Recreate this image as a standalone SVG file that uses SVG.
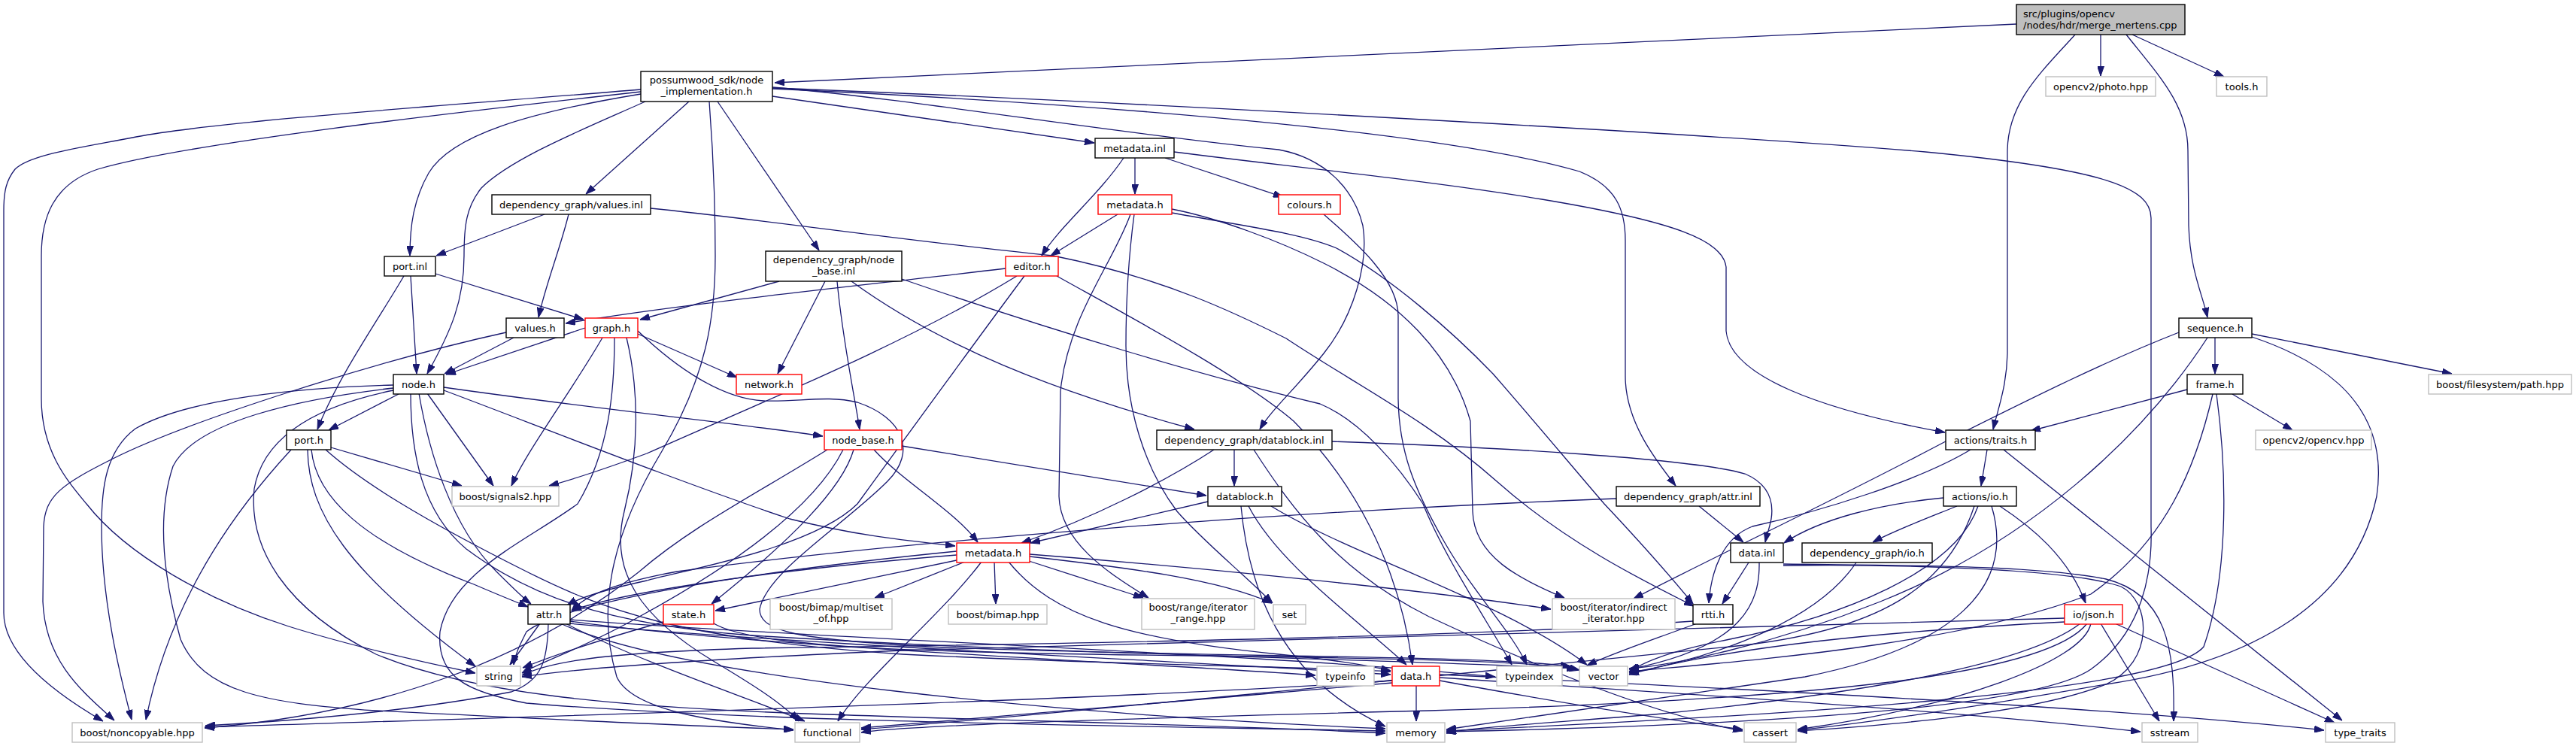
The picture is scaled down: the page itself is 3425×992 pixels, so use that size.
<svg xmlns="http://www.w3.org/2000/svg" width="3425" height="992" viewBox="0 0 3425 992">
<defs>
<marker id="ah" markerUnits="userSpaceOnUse" viewBox="0 0 13 9" refX="13" refY="4.5" markerWidth="13" markerHeight="9" orient="auto"><path d="M0,0 L13,4.5 L0,9 z" fill="#191970" stroke="#191970" stroke-width="1"/></marker>
</defs>
<style>
.nd rect{stroke-width:1.4}
.b{fill:#fff;stroke:#000}
.g{fill:#fff;stroke:#bfbfbf}
.r{fill:#fff;stroke:#ff0000}
.m{fill:#bfbfbf;stroke:#000}
text{font-family:"DejaVu Sans","Liberation Sans",sans-serif;font-size:13px;fill:#000;text-anchor:middle}
text.l{text-anchor:start}
#edges path{fill:none;stroke:#191970;stroke-width:1.3;marker-end:url(#ah)}
</style>
<rect width="3425" height="992" fill="#fff"/>
<g id="edges">
<path d="M2681,32 L1030,110"/>
<path d="M2793,46 L2793,101"/>
<path d="M2835,46 L2957,102"/>
<path d="M2759,46 C2715,95 2670,135 2669,200 L2669,470 C2668,515 2656,545 2650,571"/>
<path d="M2827,46 C2870,100 2909,140 2909,200 L2910,300 C2912,360 2928,390 2935,422"/>
<path d="M852,119 C600,140 300,160 181,182 C110,196 40,205 20,225 C8,240 5,255 5,280 L5,815 C5,870 70,920 137,959"/>
<path d="M852,122 C600,150 250,190 130,225 C70,245 55,290 55,340 L55,530 C55,600 90,640 115,670 C170,740 280,800 384,833 C470,860 560,880 632,895"/>
<path d="M852,125 C700,150 600,180 570,230 C550,265 545,300 545,340"/>
<path d="M858,135 C780,170 680,210 640,250 C620,275 617,300 617,340 C617,400 600,440 568,497"/>
<path d="M916,135 L779,258"/>
<path d="M943,135 C948,200 951,260 951,340 C951,420 940,500 880,600 C820,700 790,800 820,900 C840,945 950,960 1055,971"/>
<path d="M954,135 L1089,333"/>
<path d="M1027,128 L1455,190"/>
<path d="M1027,117 C1500,135 2300,180 2560,202 C2800,225 2860,250 2860,290 L2860,700 C2862,760 2850,840 2780,890 C2700,945 2300,965 1923,973"/>
<path d="M1027,118 C1400,135 1900,170 2100,228 C2150,248 2161,280 2161,320 L2161,500 C2161,560 2200,610 2228,646"/>
<path d="M1027,116 C1200,130 1500,180 1700,199 C1760,210 1800,250 1812,300 C1820,350 1800,420 1760,470 C1720,520 1690,545 1675,571"/>
<path d="M1509,210 L1509,258"/>
<path d="M1549,210 L1706,262"/>
<path d="M1494,210 C1460,260 1410,300 1385,340"/>
<path d="M1561,202 C1700,220 1900,240 2050,265 C2230,295 2290,320 2295,355 L2295,440 C2300,500 2420,545 2586,575"/>
<path d="M1486,285 L1397,340"/>
<path d="M1503,285 C1480,350 1420,420 1410,520 L1408,660 C1410,720 1470,760 1527,795"/>
<path d="M1508,285 C1502,330 1497,380 1497,460 C1497,540 1520,620 1565,680 C1600,720 1650,760 1692,802"/>
<path d="M1558,278 C1620,290 1700,320 1760,350 C1860,400 1930,470 1955,560 L1958,680 C1960,740 2020,770 2080,795"/>
<path d="M1558,283 C1650,300 1730,310 1777,330 C1850,370 1930,440 1985,497 C2040,560 2090,620 2133,670 C2180,720 2220,765 2251,803"/>
<path d="M1760,285 C1800,320 1859,370 1859,420 L1859,530 C1860,600 1880,650 1920,720 C1960,790 2010,840 2030,884"/>
<path d="M724,285 L580,340"/>
<path d="M756,285 C745,330 725,380 716,422"/>
<path d="M865,277 C1000,290 1200,320 1400,340 C1550,370 1650,420 1710,450 C1800,510 1900,560 1990,640 C2080,720 2180,770 2252,806"/>
<path d="M1337,357 C1100,385 900,405 752,430"/>
<path d="M1352,367 C1200,460 1000,540 860,603 C800,625 760,638 730,646"/>
<path d="M1362,367 C1300,450 1220,560 1140,670 C1080,730 900,760 860,772 C800,785 770,795 754,805"/>
<path d="M1405,367 C1500,420 1650,500 1720,560 C1800,640 1860,750 1878,884"/>
<path d="M1036,374 L851,425"/>
<path d="M1097,374 L1034,497"/>
<path d="M1113,374 C1120,450 1135,520 1143,571"/>
<path d="M1132,374 C1250,460 1400,520 1588,571"/>
<path d="M1199,371 C1400,440 1600,500 1755,537 C1810,560 1860,620 1892,670 C1920,740 1980,830 2010,884"/>
<path d="M778,436 L593,498"/>
<path d="M848,444 L980,502"/>
<path d="M801,449 C760,520 700,600 680,646"/>
<path d="M817,449 C817,520 810,600 768,670 C700,720 600,760 585,840 C580,900 620,920 700,935 C1000,960 1500,965 1842,972"/>
<path d="M833,449 C850,520 850,600 830,680 C810,760 850,820 950,880 C1000,910 1040,935 1062,959"/>
<path d="M848,440 C900,490 960,530 1015,533 C1060,535 1100,525 1140,535 C1200,555 1220,600 1180,640 C1120,700 1020,760 1010,810 C1010,840 1060,850 1234,860 C1600,875 1950,870 2088,886"/>
<path d="M683,449 L591,497"/>
<path d="M673,442 C500,480 250,560 150,610 C80,645 60,660 58,700 L57,800 C60,880 110,920 152,958"/>
<path d="M530,524 L437,572"/>
<path d="M590,515 C800,545 1000,565 1094,580"/>
<path d="M568,523 L656,646"/>
<path d="M523,512 C400,515 250,530 180,570 C140,600 135,650 135,700 C135,800 160,900 175,957"/>
<path d="M523,516 C400,530 260,560 230,620 C210,680 215,760 240,850 C270,920 350,935 500,945 C700,955 900,965 1055,970"/>
<path d="M523,519 C420,540 350,580 338,650 C330,730 380,810 500,870 C620,920 800,940 1100,950 C1400,960 1650,965 1842,975"/>
<path d="M557,523 C570,600 600,700 660,760 C680,780 695,795 706,803"/>
<path d="M546,523 C546,600 560,680 620,730 C700,790 800,830 1000,845 C1400,870 1800,875 2096,889"/>
<path d="M590,519 C700,560 900,640 1050,690 C1150,715 1220,720 1270,726"/>
<path d="M579,364 L776,425"/>
<path d="M546,367 L554,497"/>
<path d="M537,367 C500,430 450,500 422,571"/>
<path d="M440,595 L614,646"/>
<path d="M387,598 C330,660 230,780 194,957"/>
<path d="M409,598 C410,680 460,760 632,886"/>
<path d="M414,598 C420,660 480,720 630,777 C660,790 685,800 702,807"/>
<path d="M433,598 C480,640 560,690 700,760 C800,810 900,850 1200,870 C1500,885 1700,885 1849,893"/>
<path d="M1199,593 L1604,659"/>
<path d="M1162,598 C1200,640 1270,680 1300,721"/>
<path d="M1135,598 C1120,650 1050,720 946,803"/>
<path d="M1100,598 C1000,660 920,700 850,760 C700,880 500,950 272,968"/>
<path d="M1121,598 C1080,680 960,760 850,820 C780,860 720,880 694,895"/>
<path d="M1641,598 L1641,646"/>
<path d="M1614,598 C1550,640 1450,690 1358,722"/>
<path d="M1771,587 C2000,595 2250,610 2320,630 C2355,645 2358,670 2355,690 C2352,705 2349,712 2347,721"/>
<path d="M1667,598 C1720,680 1780,760 1900,820 C2050,890 2200,950 2317,972"/>
<path d="M1606,667 L1370,722"/>
<path d="M1660,673 C1700,750 1800,820 1870,884"/>
<path d="M1650,673 C1660,780 1700,900 1842,966"/>
<path d="M1690,673 C1800,740 2000,800 2110,884"/>
<path d="M2149,663 C1700,680 1200,720 900,760 C820,775 780,790 760,812"/>
<path d="M2259,673 L2318,721"/>
<path d="M2642,598 L2634,646"/>
<path d="M2664,598 L3114,958"/>
<path d="M2620,598 C2550,640 2420,680 2330,700 C2290,715 2275,760 2272,802"/>
<path d="M2584,662 C2500,670 2420,690 2372,722"/>
<path d="M2602,673 C2560,690 2520,705 2490,721"/>
<path d="M2659,673 C2700,700 2750,740 2773,802"/>
<path d="M2630,673 C2600,760 2450,820 2300,850 C2200,870 2180,885 2166,893"/>
<path d="M2625,673 C2590,780 2500,840 2300,860 C1900,900 1400,950 1145,970"/>
<path d="M2648,673 C2680,780 2600,860 2400,900 C2200,930 2000,960 1923,970"/>
<path d="M2325,748 L2290,803"/>
<path d="M2339,748 C2340,800 2320,860 2166,890"/>
<path d="M2371,750 C2500,752 2700,750 2800,770 C2880,790 2892,860 2890,959"/>
<path d="M2371,752 C2500,750 2750,755 2820,780 C2860,800 2865,880 2800,910 C2700,950 2500,965 2390,972"/>
<path d="M2468,748 C2420,820 2300,870 2166,895"/>
<path d="M2251,826 C2000,845 1500,855 1000,862 C800,868 730,880 694,898"/>
<path d="M2256,829 C2200,850 2140,870 2110,885"/>
<path d="M2745,822 C2400,832 1800,848 1200,865 C900,878 760,890 694,900"/>
<path d="M2745,827 C2500,840 2300,860 2166,897"/>
<path d="M2766,829 C2700,880 2500,920 2200,950 C2050,962 1950,968 1923,975"/>
<path d="M2775,829 C2720,900 2400,930 1900,945 C1500,955 1200,965 1145,974"/>
<path d="M2780,829 C2770,880 2600,940 2390,970"/>
<path d="M2793,829 L2871,959"/>
<path d="M2812,829 L3104,961"/>
<path d="M1883,911 L1883,959"/>
<path d="M1914,905 C2050,930 2200,955 2317,970"/>
<path d="M1914,901 C2200,920 2600,945 2846,973"/>
<path d="M1914,897 C2300,915 2800,940 3090,971"/>
<path d="M1851,905 C1500,930 800,950 272,967"/>
<path d="M1851,908 C1600,930 1300,955 1145,968"/>
<path d="M718,829 L678,884"/>
<path d="M729,829 C728,880 720,905 680,920 C550,945 400,958 273,965"/>
<path d="M758,826 C1000,860 1500,880 1749,898"/>
<path d="M758,824 C1100,850 1700,870 1988,900"/>
<path d="M756,829 C1100,860 1600,880 1849,897"/>
<path d="M752,829 C850,880 1000,930 1070,959"/>
<path d="M745,829 C900,900 1400,950 1842,969"/>
<path d="M882,827 C800,850 740,870 695,888"/>
<path d="M949,829 C1000,860 1200,868 1600,872 C1900,876 2050,880 2100,891"/>
<path d="M1272,733 C1000,760 750,800 700,840 C690,860 685,870 683,884"/>
<path d="M1272,738 C1000,760 820,790 760,812"/>
<path d="M1272,745 L951,812"/>
<path d="M1283,747 L1163,795"/>
<path d="M1305,747 C1250,820 1150,900 1114,959"/>
<path d="M1322,747 L1324,803"/>
<path d="M1368,746 L1520,795"/>
<path d="M1369,740 C1500,755 1620,770 1691,802"/>
<path d="M1369,737 C1600,755 1900,785 2062,810"/>
<path d="M1341,747 C1400,820 1500,850 1700,870 C1780,878 1820,885 1849,892"/>
<path d="M2945,449 L2945,497"/>
<path d="M2994,444 L3260,497"/>
<path d="M2897,442 C2800,480 2700,530 2600,580 C2450,660 2300,730 2172,796"/>
<path d="M2935,449 C2850,580 2700,720 2500,800 C2350,860 2220,885 2166,889"/>
<path d="M2994,448 C3120,490 3175,560 3160,660 C3130,800 3000,880 2800,910 C2600,945 2450,965 2390,971"/>
<path d="M2908,518 L2700,573"/>
<path d="M2968,524 L3048,572"/>
<path d="M2942,524 C2920,620 2880,720 2780,790 C2600,860 2300,880 2166,893"/>
<path d="M2947,524 C2960,620 2965,760 2930,860 C2880,920 2400,950 1923,972"/>
</g>
<g id="n_merge" class="nd"><rect class="m" x="2681" y="6" width="224" height="40"/><text class="l" x="2690" y="22.5">src/plugins/opencv</text><text class="l" x="2690" y="37.5">/nodes/hdr/merge_mertens.cpp</text></g>
<g id="n_possumwood" class="nd"><rect class="b" x="852" y="95" width="175" height="40"/><text x="939.5" y="111">possumwood_sdk/node</text><text x="939.5" y="126">_implementation.h</text></g>
<g id="n_photo" class="nd"><rect class="g" x="2720" y="102" width="146" height="26"/><text x="2793" y="119.5">opencv2/photo.hpp</text></g>
<g id="n_tools" class="nd"><rect class="g" x="2947" y="102" width="67" height="26"/><text x="2980.5" y="119.5">tools.h</text></g>
<g id="n_metadata_inl" class="nd"><rect class="b" x="1456" y="184" width="105" height="26"/><text x="1508.5" y="201.5">metadata.inl</text></g>
<g id="n_values_inl" class="nd"><rect class="b" x="654" y="259" width="211" height="26"/><text x="759.5" y="276.5">dependency_graph/values.inl</text></g>
<g id="n_metadata_h1" class="nd"><rect class="r" x="1460" y="259" width="98" height="26"/><text x="1509" y="276.5">metadata.h</text></g>
<g id="n_colours" class="nd"><rect class="r" x="1700" y="259" width="82" height="26"/><text x="1741" y="276.5">colours.h</text></g>
<g id="n_node_base_inl" class="nd"><rect class="b" x="1018" y="334" width="181" height="40"/><text x="1108.5" y="350">dependency_graph/node</text><text x="1108.5" y="365">_base.inl</text></g>
<g id="n_port_inl" class="nd"><rect class="b" x="511" y="341" width="68" height="26"/><text x="545" y="358.5">port.inl</text></g>
<g id="n_editor" class="nd"><rect class="r" x="1337" y="341" width="70" height="26"/><text x="1372" y="358.5">editor.h</text></g>
<g id="n_values_h" class="nd"><rect class="b" x="673" y="423" width="77" height="26"/><text x="711.5" y="440.5">values.h</text></g>
<g id="n_graph" class="nd"><rect class="r" x="778" y="423" width="70" height="26"/><text x="813" y="440.5">graph.h</text></g>
<g id="n_sequence" class="nd"><rect class="b" x="2897" y="423" width="97" height="26"/><text x="2945.5" y="440.5">sequence.h</text></g>
<g id="n_node_h" class="nd"><rect class="b" x="523" y="498" width="67" height="26"/><text x="556.5" y="515.5">node.h</text></g>
<g id="n_network" class="nd"><rect class="r" x="979" y="498" width="87" height="26"/><text x="1022.5" y="515.5">network.h</text></g>
<g id="n_frame" class="nd"><rect class="b" x="2908" y="498" width="74" height="26"/><text x="2945" y="515.5">frame.h</text></g>
<g id="n_fs_path" class="nd"><rect class="g" x="3229" y="498" width="190" height="26"/><text x="3324" y="515.5">boost/filesystem/path.hpp</text></g>
<g id="n_port_h" class="nd"><rect class="b" x="381" y="572" width="59" height="26"/><text x="410.5" y="589.5">port.h</text></g>
<g id="n_node_base_h" class="nd"><rect class="r" x="1096" y="572" width="103" height="26"/><text x="1147.5" y="589.5">node_base.h</text></g>
<g id="n_datablock_inl" class="nd"><rect class="b" x="1538" y="572" width="233" height="26"/><text x="1654.5" y="589.5">dependency_graph/datablock.inl</text></g>
<g id="n_traits" class="nd"><rect class="b" x="2587" y="572" width="119" height="26"/><text x="2646.5" y="589.5">actions/traits.h</text></g>
<g id="n_opencv" class="nd"><rect class="g" x="2999" y="572" width="154" height="26"/><text x="3076" y="589.5">opencv2/opencv.hpp</text></g>
<g id="n_signals2" class="nd"><rect class="g" x="601" y="647" width="142" height="26"/><text x="672" y="664.5">boost/signals2.hpp</text></g>
<g id="n_datablock_h" class="nd"><rect class="b" x="1606" y="647" width="98" height="26"/><text x="1655" y="664.5">datablock.h</text></g>
<g id="n_attr_inl" class="nd"><rect class="b" x="2149" y="647" width="191" height="26"/><text x="2244.5" y="664.5">dependency_graph/attr.inl</text></g>
<g id="n_io_h" class="nd"><rect class="b" x="2584" y="647" width="97" height="26"/><text x="2632.5" y="664.5">actions/io.h</text></g>
<g id="n_metadata_h2" class="nd"><rect class="r" x="1272" y="722" width="97" height="26"/><text x="1320.5" y="739.5">metadata.h</text></g>
<g id="n_data_inl" class="nd"><rect class="b" x="2301" y="722" width="70" height="26"/><text x="2336" y="739.5">data.inl</text></g>
<g id="n_dg_io" class="nd"><rect class="b" x="2396" y="722" width="173" height="26"/><text x="2482.5" y="739.5">dependency_graph/io.h</text></g>
<g id="n_attr_h" class="nd"><rect class="b" x="702" y="804" width="56" height="26"/><text x="730" y="821.5">attr.h</text></g>
<g id="n_state" class="nd"><rect class="r" x="882" y="804" width="67" height="26"/><text x="915.5" y="821.5">state.h</text></g>
<g id="n_multiset" class="nd"><rect class="g" x="1024" y="796" width="162" height="41"/><text x="1105" y="812">boost/bimap/multiset</text><text x="1105" y="827">_of.hpp</text></g>
<g id="n_bimap" class="nd"><rect class="g" x="1261" y="804" width="131" height="26"/><text x="1326.5" y="821.5">boost/bimap.hpp</text></g>
<g id="n_range" class="nd"><rect class="g" x="1518" y="796" width="150" height="41"/><text x="1593" y="812">boost/range/iterator</text><text x="1593" y="827">_range.hpp</text></g>
<g id="n_set" class="nd"><rect class="g" x="1693" y="804" width="43" height="26"/><text x="1714.5" y="821.5">set</text></g>
<g id="n_indirect" class="nd"><rect class="g" x="2064" y="796" width="163" height="41"/><text x="2145.5" y="812">boost/iterator/indirect</text><text x="2145.5" y="827">_iterator.hpp</text></g>
<g id="n_rtti" class="nd"><rect class="b" x="2251" y="804" width="53" height="26"/><text x="2277.5" y="821.5">rtti.h</text></g>
<g id="n_json" class="nd"><rect class="r" x="2745" y="804" width="77" height="26"/><text x="2783.5" y="821.5">io/json.h</text></g>
<g id="n_string" class="nd"><rect class="g" x="634" y="886" width="58" height="26"/><text x="663" y="903.5">string</text></g>
<g id="n_typeinfo" class="nd"><rect class="g" x="1751" y="886" width="76" height="26"/><text x="1789" y="903.5">typeinfo</text></g>
<g id="n_data_h" class="nd"><rect class="r" x="1851" y="886" width="63" height="26"/><text x="1882.5" y="903.5">data.h</text></g>
<g id="n_typeindex" class="nd"><rect class="g" x="1990" y="886" width="87" height="26"/><text x="2033.5" y="903.5">typeindex</text></g>
<g id="n_vector" class="nd"><rect class="g" x="2100" y="886" width="64" height="26"/><text x="2132" y="903.5">vector</text></g>
<g id="n_noncopyable" class="nd"><rect class="g" x="96" y="961" width="173" height="26"/><text x="182.5" y="978.5">boost/noncopyable.hpp</text></g>
<g id="n_functional" class="nd"><rect class="g" x="1057" y="961" width="86" height="26"/><text x="1100" y="978.5">functional</text></g>
<g id="n_memory" class="nd"><rect class="g" x="1844" y="961" width="77" height="26"/><text x="1882.5" y="978.5">memory</text></g>
<g id="n_cassert" class="nd"><rect class="g" x="2319" y="961" width="69" height="26"/><text x="2353.5" y="978.5">cassert</text></g>
<g id="n_sstream" class="nd"><rect class="g" x="2848" y="961" width="74" height="26"/><text x="2885" y="978.5">sstream</text></g>
<g id="n_type_traits" class="nd"><rect class="g" x="3092" y="961" width="92" height="26"/><text x="3138" y="978.5">type_traits</text></g>
</svg>
